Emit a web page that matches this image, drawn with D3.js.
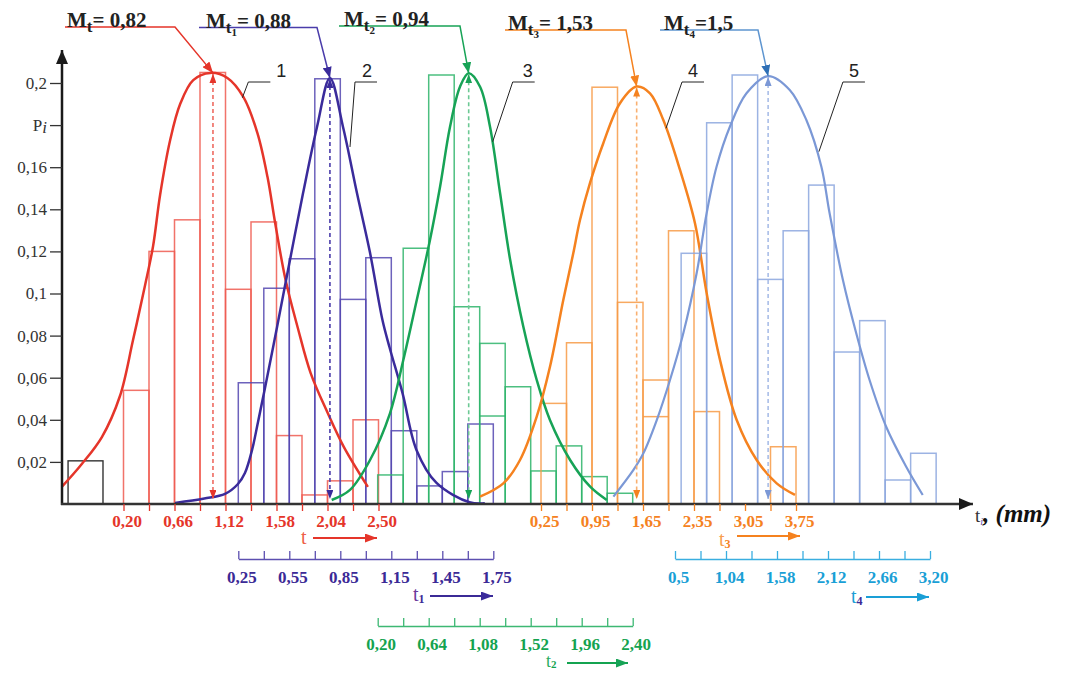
<!DOCTYPE html>
<html><head><meta charset="utf-8">
<script src="https://cdn.jsdelivr.net/npm/d3@7"></script>
<style>
body{margin:0;background:#fff;}
svg{display:block;}
</style></head><body>
<svg id="chart" width="1068" height="673"></svg>
<script>
// ================= DATA =================
const yTickValues = [0.02,0.04,0.06,0.08,0.1,0.12,0.14,0.16,0.18,0.2];
const yTickLabels = ["0,02","0,04","0,06","0,08","0,1","0,12","0,14","0,16","P_i","0,2"];

// axis tick labels of each variable
const tTickLabels  = ["0,20","0,66","1,12","1,58","2,04","2,50"];
const t1TickLabels = ["0,25","0,55","0,85","1,15","1,45","1,75"];
const t2TickLabels = ["0,20","0,64","1,08","1,52","1,96","2,40"];
const t3TickLabels = ["0,25","0,95","1,65","2,35","3,05","3,75"];
const t4TickLabels = ["0,5","1,04","1,58","2,12","2,66","3,20"];

// histogram bin starts / widths (in each variable's own units)
const binStart = [0.20, 0.25, 0.20, 0.25, 0.565];
const binWidth = [0.23, 0.15, 0.22, 0.35, 0.27];

// histogram frequencies P_i
const barsT  = [0.054, 0.120, 0.135, 0.205, 0.102, 0.134, 0.0325, 0.0043, 0.011, 0.040];
const barsT1 = [0.0576, 0.1025, 0.1165, 0.202, 0.0972, 0.117, 0.0348, 0.0086, 0.0154, 0.038];
const barsT2 = [0.0138, 0.1215, 0.2038, 0.0937, 0.0763, 0.0557, 0.0157, 0.0276, 0.013, 0.0051];
const barsT3 = [0.0478, 0.0766, 0.198, 0.0958, 0.0589, 0.1298, 0.0439, 0, 0, 0.0272];
const barsT4 = [0.1191, 0.1811, 0.2038, 0.1067, 0.1298, 0.1515, 0.0722, 0.0871, 0.0114, 0.0241];
// second (overlapping) outlines
const extraT2Bin = [4], extraT2P = [0.0418];
const extraT3Bin = [4], extraT3P = [0.0415];
// black reference bar (in t units)
const blackBarT = [-0.30, 0.015], blackBarP = 0.0205;

// fitted density curves [t, P]
const curveT = [[-0.357,0.0081],[-0.176,0.0190],[0.005,0.0318],[0.168,0.0513],[0.286,0.0779],[0.395,0.1040],[0.467,0.1226],[0.530,0.1468],[0.621,0.1729],[0.711,0.1900],[0.829,0.2014],[0.983,0.2048],[1.137,0.2024],[1.282,0.1933],[1.408,0.1762],[1.499,0.1553],[1.571,0.1325],[1.662,0.1064],[1.770,0.0841],[1.888,0.0622],[2.042,0.0432],[2.187,0.0271],[2.404,0.0081]];
const curveT1 = [[-0.122,0.0005],[0.050,0.0026],[0.172,0.0048],[0.248,0.0095],[0.289,0.0147],[0.331,0.0257],[0.366,0.0390],[0.407,0.0551],[0.478,0.0841],[0.554,0.1159],[0.631,0.1477],[0.713,0.1791],[0.789,0.2024],[0.866,0.1791],[0.948,0.1477],[1.024,0.1197],[1.098,0.0874],[1.139,0.0746],[1.216,0.0527],[1.298,0.0257],[1.416,0.0100],[1.610,0.0008],[1.700,0.0003]];
const curveT2 = [[-0.197,0.0019],[-0.039,0.0067],[0.134,0.0209],[0.306,0.0431],[0.421,0.0684],[0.537,0.0969],[0.651,0.1254],[0.738,0.1507],[0.824,0.1792],[0.910,0.1982],[0.985,0.2046],[1.083,0.1982],[1.169,0.1792],[1.256,0.1476],[1.343,0.1159],[1.456,0.0843],[1.572,0.0589],[1.686,0.0399],[1.860,0.0209],[2.033,0.0082],[2.176,0.0019]];
const curveT3 = [[-0.587,0.0035],[-0.267,0.0098],[-0.038,0.0209],[0.191,0.0415],[0.374,0.0653],[0.556,0.0969],[0.693,0.1191],[0.785,0.1349],[0.922,0.1524],[1.105,0.1714],[1.334,0.1904],[1.563,0.1983],[1.746,0.1951],[1.929,0.1824],[2.158,0.1587],[2.364,0.1333],[2.524,0.1001],[2.707,0.0684],[2.936,0.0399],[3.210,0.0209],[3.485,0.0098],[3.736,0.0043]];
const curveT4 = [[-0.152,0.0035],[0.060,0.0162],[0.165,0.0241],[0.307,0.0399],[0.447,0.0589],[0.588,0.0811],[0.729,0.1096],[0.835,0.1381],[0.940,0.1602],[1.081,0.1792],[1.257,0.1951],[1.486,0.2033],[1.715,0.1967],[1.891,0.1824],[2.050,0.1602],[2.137,0.1381],[2.278,0.1064],[2.419,0.0811],[2.560,0.0589],[2.736,0.0367],[2.948,0.0177],[3.123,0.0043]];

// mean positions (peak) and labels
const meanT = [1.007, 0.789, 0.985, 1.563, 1.486];
const peakP = [0.2048, 0.2024, 0.2046, 0.1983, 0.2033];
const meanSub = ["", "1", "2", "3", "4"];
const meanValue = ["= 0,82", "= 0,88", "= 0,94", "= 1,53", "=1,5"];
const curveNumbers = ["1","2","3","4","5"];
const numberAnchorT = [1.272, 0.907, 1.192, 1.966, 2.024];
const numberAnchorP = [0.193, 0.1696, 0.1721, 0.1785, 0.1674];

// ================= LAYOUT =================
const svg = d3.select('#chart');
const defs = svg.append('defs');
const SERIF = "'Liberation Serif','DejaVu Serif',serif";
const SANS = "'Liberation Sans','DejaVu Sans',sans-serif";
const BIN = 25.5;
const y = d3.scaleLinear().domain([0, 0.2]).range([504, 83]);

const axisStartPx = [123.5, 238.3, 377.7, 541, 675];
const axisDomains = [[0.20,2.50],[0.25,1.75],[0.20,2.40],[0.25,3.75],[0.5,3.20]];
const xs = axisDomains.map((d,i)=>d3.scaleLinear().domain(d).range([axisStartPx[i], axisStartPx[i]+10*BIN]));

const curveColor = ['#e5352a','#3a2b9b','#17a356','#f5821f','#7b98d6'];
const barColor   = ['#ee5a50','#5446b0','#2db46a','#f79a45','#8ba6de'];
const dashColor  = ['#ef6b62','#4a3caa','#6cc994','#f9b070','#a9bee8'];
const textColor  = ['#e5352a','#3b2a96','#14a350','#f5821f','#1a9fd6'];
const allBars = [barsT, barsT1, barsT2, barsT3, barsT4];
const allCurves = [curveT, curveT1, curveT2, curveT3, curveT4];

function marker(id, color, w, h) {
  defs.append('marker').attr('id', id).attr('viewBox','0 0 10 10')
    .attr('refX', 10).attr('refY', 5).attr('markerUnits','userSpaceOnUse')
    .attr('markerWidth', w).attr('markerHeight', h).attr('preserveAspectRatio','none')
    .attr('orient','auto-start-reverse')
    .append('path').attr('d','M0,0L10,5L0,10Z').attr('fill', color);
}
marker('axArrow', '#1a1a1a', 14, 12);
curveColor.forEach((c,i)=>{ marker('dash'+i, c, 9, 7); marker('top'+i, i===4 ? '#2e6fb6' : c, 11, 9); marker('bt'+i, i===4 ? '#1a9fd6' : c, 12, 9); });

// ---- bars ----
const gBars = svg.append('g');
gBars.append('rect')
  .attr('x', xs[0](blackBarT[0])).attr('width', xs[0](blackBarT[1]) - xs[0](blackBarT[0]))
  .attr('y', y(blackBarP)).attr('height', y(0) - y(blackBarP))
  .attr('fill','none').attr('stroke','#333').attr('stroke-width',1.4);

allBars.forEach((ps, s) => {
  const data = ps.map((p,i)=>({i,p})).filter(d=>d.p>0);
  gBars.append('g').selectAll('rect').data(data).join('rect')
    .attr('x', d => xs[s](binStart[s] + d.i*binWidth[s]))
    .attr('width', d => xs[s](binStart[s] + (d.i+1)*binWidth[s]) - xs[s](binStart[s] + d.i*binWidth[s]))
    .attr('y', d => y(d.p)).attr('height', d => y(0) - y(d.p))
    .attr('fill','none').attr('stroke', barColor[s]).attr('stroke-width',1.5).attr('stroke-opacity',0.85);
});
[[2, extraT2Bin, extraT2P],[3, extraT3Bin, extraT3P]].forEach(([s, bins, ps]) => {
  gBars.append('g').selectAll('line').data(bins.map((b,k)=>({b, p:ps[k]}))).join('line')
    .attr('x1', d => xs[s](binStart[s] + d.b*binWidth[s]))
    .attr('x2', d => xs[s](binStart[s] + (d.b+1)*binWidth[s]))
    .attr('y1', d => y(d.p)).attr('y2', d => y(d.p))
    .attr('stroke', barColor[s]).attr('stroke-width',1.5).attr('stroke-opacity',0.85);
});

// ---- curves ----
const line = (s) => d3.line().x(d => xs[s](d[0])).y(d => y(d[1])).curve(d3.curveCatmullRom.alpha(0.5));
allCurves.forEach((c, s) => {
  svg.append('path').attr('d', line(s)(c)).attr('fill','none')
    .attr('stroke', curveColor[s]).attr('stroke-width', s===4 ? 2.2 : 2.5);
});

// ---- dashed mean lines ----
meanT.forEach((m, s) => {
  const X = xs[s](m);
  svg.append('line').attr('x1', X).attr('x2', X).attr('y1', y(peakP[s]) + 1).attr('y2', y(0) - 5)
    .attr('stroke', dashColor[s]).attr('stroke-width', 1.6).attr('stroke-dasharray','4,3')
    .attr('marker-start','url(#dash'+s+')').attr('marker-end','url(#dash'+s+')');
});

// ---- top mean labels with connectors ----
const topTextX = [67, 206, 344, 508, 664];
const topLineX0 = [65, 199, 339, 505, 660];
const topLineX1 = [175, 317, 460, 626, 758];
const topLineY = [27, 27.5, 26, 30, 30];
const topLineColor = ['#e5352a','#4a3caa','#17a356','#f5821f','#5e95d0'];
meanT.forEach((m, s) => {
  const X = xs[s](m);
  svg.append('path')
    .attr('d', `M${topLineX0[s]},${topLineY[s]}H${topLineX1[s]}L${X},${y(peakP[s])}`)
    .attr('fill','none').attr('stroke', topLineColor[s]).attr('stroke-width',1.5)
    .attr('marker-end','url(#top'+s+')');
  const t = svg.append('text').attr('x', topTextX[s]).attr('y', topLineY[s])
    .attr('font-family', SERIF).attr('font-weight','bold').attr('fill','#222');
  t.append('tspan').attr('font-size',21).text('M');
  t.append('tspan').attr('font-size',17).attr('dy',5).text('t');
  let back = -5;
  if (meanSub[s]) { t.append('tspan').attr('font-size',11).attr('dy',3).text(meanSub[s]); back = -8; }
  t.append('tspan').attr('font-size',21).attr('dy',back).text(meanValue[s]);
});

// ---- curve number labels ----
const knee = [6, 5, 20, 16, 24];
const numDx = [33, 12, 15, 11, 11];
curveNumbers.forEach((n, s) => {
  const ax = xs[s](numberAnchorT[s]), ay = y(numberAnchorP[s]);
  const kx = ax + knee[s];
  svg.append('path').attr('d', `M${ax},${ay}L${kx},82H${kx+22}`)
    .attr('fill','none').attr('stroke','#222').attr('stroke-width',1);
  svg.append('text').attr('x', kx + numDx[s]).attr('y', 77).attr('text-anchor','middle')
    .attr('font-family', SANS).attr('font-size',18).attr('fill','#222').text(n);
});

// ---- main axes ----
svg.append('line').attr('x1',62).attr('x2',62).attr('y1',505).attr('y2',50)
  .attr('stroke','#1a1a1a').attr('stroke-width',2.5).attr('marker-end','url(#axArrow)');
svg.append('line').attr('x1',61).attr('x2',973).attr('y1',504).attr('y2',504)
  .attr('stroke','#333').attr('stroke-width',2.5).attr('marker-end','url(#axArrow)');

const yAxis = svg.append('g').attr('transform','translate(62,0)')
  .call(d3.axisLeft(y).tickValues(yTickValues).tickSize(12).tickPadding(3)
    .tickFormat((d,i)=>yTickLabels[i]));
yAxis.select('.domain').remove();
yAxis.selectAll('line').attr('stroke','#333').attr('stroke-width',1.3);
yAxis.selectAll('text').attr('font-family', SERIF).attr('font-size',17).attr('fill','#333')
  .each(function(d,i){
    if (yTickLabels[i] === 'P_i') {
      const el = d3.select(this); el.text('');
      el.append('tspan').text('P');
      el.append('tspan').attr('font-style','italic').attr('dy',2).text('i');
    }
  });

// x label
const xl = svg.append('text').attr('x',975).attr('y',522).attr('font-family',SERIF).attr('fill','#333');
xl.append('tspan').attr('font-size',19).text('t');
xl.append('tspan').attr('font-size',10).attr('font-style','italic').attr('fill','#5a4ab8').attr('dy',3).text('i');
xl.append('tspan').attr('font-size',25).attr('font-weight','bold').attr('font-style','italic').attr('fill','#111').attr('dy',-3).text(', (mm)');

// ---- variable axes ----
const tickLabelSets = [tTickLabels, t1TickLabels, t2TickLabels, t3TickLabels, t4TickLabels];
const axisY = [504, 559, 626, 504, 559];
const axisLineColor = ['#e5352a','#5c4fb0','#3db873','#f5821f','#3aaee0'];
tickLabelSets.forEach((labels, s) => {
  const d = axisDomains[s];
  const step = (d[1]-d[0])/10;
  const vals = d3.range(11).map(i => d[0] + i*step);
  const onMain = (s === 0 || s === 3);
  const ax = d3.axisBottom(xs[s]).tickValues(vals)
    .tickFormat((v,i) => i%2===0 ? labels[i/2] : '');
  if (onMain) ax.tickSize(7).tickPadding(4);
  else ax.tickSizeInner(-8).tickSizeOuter(0).tickPadding(12);
  const g = svg.append('g').attr('transform', `translate(0,${axisY[s]})`).call(ax);
  if (onMain) g.select('.domain').remove();
  else g.select('.domain').attr('stroke', axisLineColor[s]).attr('stroke-width',1.3);
  g.selectAll('line').attr('stroke', axisLineColor[s]).attr('stroke-width',1.3);
  g.selectAll('text').attr('font-family',SERIF).attr('font-weight','bold').attr('font-size',17)
    .attr('fill', textColor[s]).attr('dx',3);
});

// ---- variable name + arrow under axes ----
const tName = [
  {x:301, y:544, sub:'', color:'#ee6048', a0:313, a1:377, ay:538},
  {x:413, y:601, sub:'1', color:'#6a3a9c', a0:430, a1:493, ay:596},
  {x:546, y:667, sub:'2', color:'#2cae62', a0:567, a1:628, ay:663},
  {x:719, y:546, sub:'3', color:'#f8a050', a0:737, a1:800, ay:536},
  {x:851, y:603, sub:'4', color:'#1a9fd6', a0:866, a1:929, ay:597}
];
tName.forEach((o, s) => {
  const t = svg.append('text').attr('x',o.x).attr('y',o.y).attr('font-family',SERIF).attr('fill',o.color);
  t.append('tspan').attr('font-size', s===2 ? 18 : 20).text('t');
  if (o.sub) t.append('tspan').attr('font-size', s===2 ? 11 : 12).attr('font-weight','bold')
    .attr('fill', s===4 ? '#3b2a96' : textColor[s]).attr('dy', s===2 ? 1 : 2).text(o.sub);
  svg.append('line').attr('x1',o.a0).attr('x2',o.a1).attr('y1',o.ay).attr('y2',o.ay)
    .attr('stroke', s===0 ? '#e5352a' : textColor[s]).attr('stroke-width',2.2)
    .attr('marker-end','url(#bt'+s+')');
});
</script>
</body></html>
